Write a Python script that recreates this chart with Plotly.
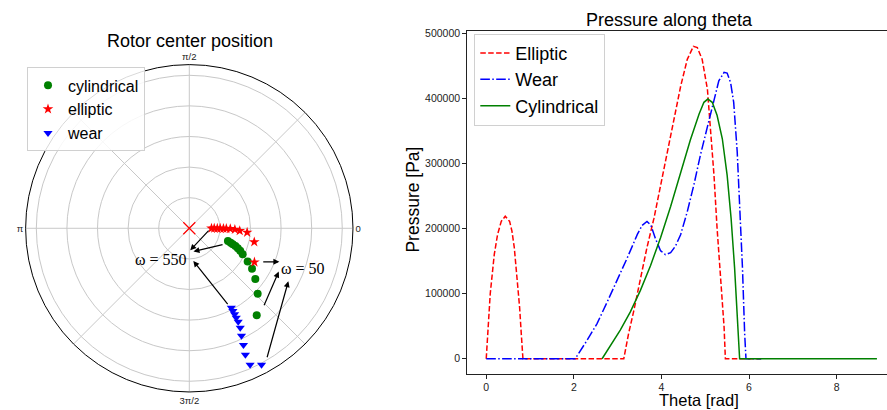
import plotly.graph_objects as go

# ---------------- Polar data (rotor centre positions) ----------------
cyl_r = [0.266, 0.286, 0.303, 0.323, 0.343, 0.364, 0.388, 0.439, 0.488, 0.544, 0.619, 0.719]
cyl_t = [-18.2, -19.2, -20.2, -20.9, -22.4, -23.9, -25.9, -29.6, -32.8, -37.5, -43.8, -52.2]
ell_r = [0.145, 0.163, 0.183, 0.202, 0.223, 0.242, 0.268, 0.298, 0.330, 0.379, 0.434, 0.480]
ell_t = [0.0, 0.0, -0.2, -0.3, -0.4, -0.5, -0.7, -1.5, -2.8, -4.1, -11.9, -27.5]
wear_r = [0.587, 0.611, 0.635, 0.660, 0.690, 0.731, 0.781, 0.841, 0.905, 0.977, 1.009]
wear_t = [-62.1, -62.2, -62.2, -62.3, -62.4, -62.9, -64.1, -65.1, -66.1, -66.0, -62.1]
center_r = [0.0]
center_t = [0.0]

# arrows (head x/y, tail x/y) in cartesian units of the polar plane
arrow_head_x = [0.006, 0.027, 0.026, 0.583, 0.579, 0.641]
arrow_head_y = [-0.144, -0.152, -0.214, -0.219, -0.283, -0.346]
arrow_tail_x = [0.134, 0.225, 0.256, 0.469, 0.480, 0.501]
arrow_tail_y = [-0.005, -0.104, -0.505, -0.219, -0.513, -0.853]
label_text = ["\u03c9 = 550", "\u03c9 = 50"]
label_x = [-0.183, 0.738]
label_y = [-0.206, -0.260]

# ---------------- Pressure data ----------------
ell_theta = [0.0, 0.091, 0.183, 0.259, 0.343, 0.434, 0.534, 0.587, 0.640, 0.701, 0.762, 0.800, 0.838,
             3.14, 3.25, 3.37, 3.52, 3.67, 3.83, 3.98, 4.13, 4.28, 4.44, 4.59, 4.73, 4.82, 4.93,
             5.05, 5.12, 5.20, 5.27, 5.35, 5.43, 5.46, 6.28]
ell_p = [0, 99500, 160000, 191000, 211000, 219000, 211000, 196000, 171000, 130000, 79000, 38600, 0,
         0, 38600, 74000, 125000, 171000, 216000, 267000, 318000, 368000, 419000, 460000, 480000, 478000, 460000,
         414000, 358000, 282000, 201000, 125000, 49000, 0, 0]

wear_theta = [0.0, 2.03, 2.30, 2.53, 2.76, 2.99, 3.22, 3.45, 3.56, 3.67, 3.76, 3.86, 3.98, 4.09, 4.21,
              4.32, 4.44, 4.59, 4.74, 4.89, 5.05, 5.20, 5.31, 5.43, 5.50, 5.58, 5.65, 5.73, 5.79,
              5.85, 5.90, 5.93, 6.28]
wear_p = [0, 0, 28000, 54000, 87000, 120000, 155000, 191000, 205000, 211000, 205000, 185000, 166000, 160000, 163000,
          173000, 191000, 226000, 267000, 313000, 358000, 399000, 427000, 440000, 439000, 424000, 394000, 318000, 231000,
          140000, 39000, 0, 0]

cyl_theta = [2.645, 2.84, 3.06, 3.29, 3.52, 3.75, 3.98, 4.21, 4.44, 4.66, 4.86, 4.97, 5.06, 5.16,
             5.27, 5.39, 5.50, 5.59, 5.67, 5.73, 5.785, 8.92]
cyl_p = [0, 21000, 44000, 72000, 105000, 143000, 186000, 234000, 285000, 336000, 376000, 394000, 399000, 394000,
         374000, 338000, 282000, 216000, 140000, 64000, 0, 0]

x_ticks = [0, 2, 4, 6, 8]
y_ticks = [0, 100000, 200000, 300000, 400000, 500000]

W, H = 887, 410
SANS = "Liberation Sans, Arial, sans-serif"
SERIF = "Liberation Serif, Times New Roman, serif"

# polar geometry (pixels)
cx, cy, R = 189.3, 226.5, 165.3
RMAX = 1.07
pdx = [(cx - R) / W, (cx + R) / W]
pdy = [1 - (cy + R) / H, 1 - (cy - R) / H]

fig = go.Figure()

# polar traces
fig.add_trace(go.Scatterpolar(r=cyl_r, theta=cyl_t, mode="markers", name="cylindrical",
                              marker=dict(symbol="circle", size=8, color="#008000"), legend="legend2"))
fig.add_trace(go.Scatterpolar(r=ell_r, theta=ell_t, mode="markers", name="elliptic",
                              marker=dict(symbol="star", size=8, color="#ff0000"), legend="legend2"))
fig.add_trace(go.Scatterpolar(r=wear_r, theta=wear_t, mode="markers", name="wear",
                              marker=dict(symbol="triangle-down", size=8, color="#0000ff"), legend="legend2"))
fig.add_trace(go.Scatterpolar(r=center_r, theta=center_t, mode="markers", showlegend=False,
                              marker=dict(symbol="x-thin", size=12, color="red",
                                          line=dict(width=1.2, color="red"))))

# pressure traces
fig.add_trace(go.Scatter(x=ell_theta, y=ell_p, mode="lines", name="Elliptic",
                         line=dict(color="#ff0000", width=1.5, dash="5.5px,2.4px"), legend="legend"))
fig.add_trace(go.Scatter(x=wear_theta, y=wear_p, mode="lines", name="Wear",
                         line=dict(color="#0000ff", width=1.5, dash="9.6px,2.4px,1.5px,2.4px"), legend="legend"))
fig.add_trace(go.Scatter(x=cyl_theta, y=cyl_p, mode="lines", name="Cylindrical",
                         line=dict(color="#008000", width=1.5), legend="legend"))

# invisible helper trace for overlay axes
fig.add_trace(go.Scatter(x=[None], y=[None], xaxis="x2", yaxis="y2", showlegend=False, hoverinfo="skip"))

annotations = []
for hx, hy, tx, ty in zip(arrow_head_x, arrow_head_y, arrow_tail_x, arrow_tail_y):
    annotations.append(dict(x=hx, y=hy, ax=tx, ay=ty, xref="x2", yref="y2", axref="x2", ayref="y2",
                            text="", showarrow=True, arrowhead=2, arrowsize=1, arrowwidth=1.2,
                            arrowcolor="black", standoff=0, startstandoff=0))
for t, lx, ly in zip(label_text, label_x, label_y):
    annotations.append(dict(x=lx, y=ly, xref="x2", yref="y2", text=t, showarrow=False,
                            font=dict(family=SERIF, size=16, color="black")))

annotations += [
    dict(x=190 / W, y=1 - 37 / H, xref="paper", yref="paper", text="Rotor center position", showarrow=False,
         font=dict(family=SANS, size=18, color="black"), xanchor="center", yanchor="middle"),
    dict(x=669 / W, y=1 - 16.5 / H, xref="paper", yref="paper", text="Pressure along theta", showarrow=False,
         font=dict(family=SANS, size=18, color="black"), xanchor="center", yanchor="middle"),
    dict(x=699 / W, y=1 - 400 / H, xref="paper", yref="paper", text="Theta [rad]", showarrow=False,
         font=dict(family=SANS, size=16.5, color="black"), xanchor="center", yanchor="middle", borderpad=0),
    dict(x=413 / W, y=1 - 197.5 / H, xref="paper", yref="paper", text="Pressure [Pa]", showarrow=False,
         textangle=-90, font=dict(family=SANS, size=17.5, color="black"), xanchor="center", yanchor="middle"),
]

x0px, x1px = 466.7, 887
y0px, y1px = 27, 374
xr0 = -0.446
xscale = 43.8
xr1 = xr0 + (x1px - x0px) / xscale

fig.update_layout(
    width=W, height=H, autosize=False,
    margin=dict(l=0, r=0, t=0, b=0),
    paper_bgcolor="white", plot_bgcolor="white",
    font=dict(family=SANS, size=10.5, color="#222"),
    polar=dict(
        domain=dict(x=pdx, y=pdy),
        bgcolor="white",
        radialaxis=dict(range=[0, RMAX], tickvals=[0.2, 0.4, 0.6, 0.8, 1.0], showticklabels=False,
                        ticks="", showline=False, gridcolor="#c8c8c8", gridwidth=0.8),
        angularaxis=dict(direction="counterclockwise", rotation=0,
                         tickvals=[0, 45, 90, 135, 180, 225, 270, 315],
                         ticktext=["0", "", "\u03c0/2", "", "\u03c0", "", "3\u03c0/2", ""],
                         ticks="", showline=True, linecolor="black", linewidth=1,
                         gridcolor="#c8c8c8", gridwidth=0.8,
                         tickfont=dict(family=SANS, size=9.5, color="#222")),
    ),
    xaxis=dict(domain=[x0px / W, 1.0], range=[xr0, xr1], tickvals=x_ticks, ticks="outside", ticklen=3.5,
               tickcolor="#222", showline=True, linecolor="#222", linewidth=1, mirror=True,
               showgrid=False, zeroline=False, tickfont=dict(size=10.5), anchor="y",
               ticklabelstandoff=0),
    yaxis=dict(domain=[1 - y1px / H, 1 - y0px / H], range=[-24000, 504000], tickvals=y_ticks, tickformat="d",
               ticks="outside", ticklen=3.5, tickcolor="#222", showline=True, linecolor="#222", linewidth=1,
               showgrid=False, zeroline=False, tickfont=dict(size=10.5), anchor="x"),
    xaxis2=dict(domain=pdx, range=[-RMAX, RMAX], visible=False, anchor="y2"),
    yaxis2=dict(domain=pdy, range=[-RMAX, RMAX], visible=False, anchor="x2"),
    legend=dict(x=474.3 / W, y=1 - 30 / H, xanchor="left", yanchor="top", bgcolor="rgba(255,255,255,0.85)",
                bordercolor="#d0d0d0", borderwidth=1, font=dict(family=SANS, size=18, color="black"),
                tracegroupgap=0, itemwidth=30),
    legend2=dict(x=27 / W, y=1 - 64 / H, xanchor="left", yanchor="top", bgcolor="rgba(255,255,255,0.85)",
                 bordercolor="#d0d0d0", borderwidth=1, font=dict(family=SANS, size=16, color="black"),
                 tracegroupgap=0, itemwidth=30),
    annotations=annotations,
    showlegend=True,
)

fig.write_html("out.html", config={"displayModeBar": False},
               post_script="document.body.style.margin='0';document.body.style.overflow='hidden';")
